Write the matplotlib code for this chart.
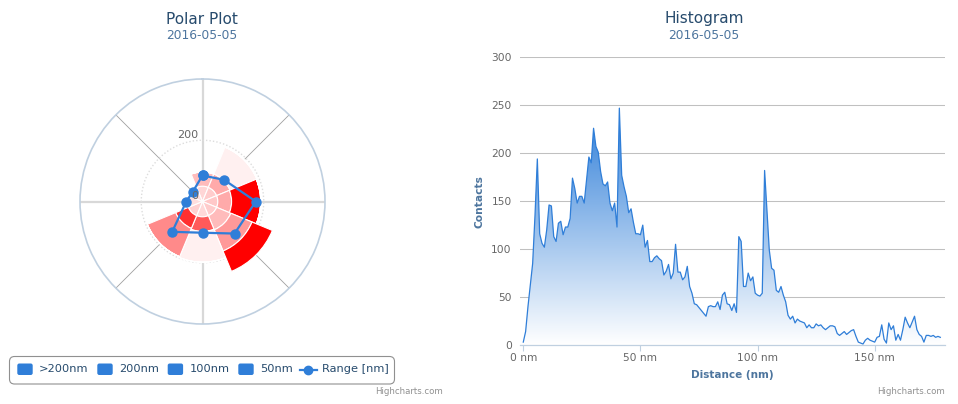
import numpy as np
import matplotlib
matplotlib.use('Agg')
import matplotlib.pyplot as plt
from matplotlib.patches import FancyBboxPatch

W, H = 958, 404

# polar data: 8 directions, stacked distance classes (inner -> outer)
directions = ['N', 'NE', 'E', 'SE', 'S', 'SW', 'W', 'NW']
s50 = [50, 50, 50, 50, 50, 50, 45, 45]
s100 = [47, 47, 45, 50, 48, 45, 0, 0]
s200 = [0, 95, 95, 75, 100, 100, 0, 0]
s_gt200 = [0, 0, 0, 72, 0, 0, 0, 0]
c50 = ['#ffd6d6', '#ffcccc', '#ffc8c8', '#ffcccc', '#ffd9d9', '#ffd0d0', '#ffdede', '#ffe0e0']
c100 = ['#ffbcbc', '#ffaaaa', '#ffaaaa', '#ffbbbb', '#ff5a5a', '#ff3030', '#ffffff', '#ffffff']
c200 = ['#ffffff', '#fff0f0', '#ff0000', '#ff9999', '#fff0f0', '#ff8a8a', '#ffffff', '#ffffff']
c_gt200 = ['#ffffff', '#ffffff', '#ffffff', '#ff0000', '#ffffff', '#ffffff', '#ffffff', '#ffffff']
range_nm = [85, 100, 174, 148, 102, 140, 53, 45]

# histogram data, 1 nm bins from 0 nm
contacts = [3, 14, 40, 62, 85, 135, 194, 116, 106, 102, 120, 146, 145, 113, 108, 127, 129, 115,
            123, 123, 132, 174, 163, 148, 155, 155, 148, 172, 196, 190, 226, 207, 201, 181, 168,
            166, 170, 148, 140, 148, 123, 247, 177, 165, 155, 138, 142, 128, 116, 116, 115, 125,
            102, 109, 87, 87, 91, 93, 90, 88, 73, 77, 84, 69, 75, 105, 76, 76, 68, 71, 82, 61,
            54, 43, 42, 39, 36, 33, 30, 40, 41, 40, 40, 45, 37, 52, 55, 43, 42, 36, 43, 34, 113,
            108, 61, 61, 75, 67, 71, 54, 52, 51, 54, 182, 141, 99, 80, 78, 57, 55, 61, 52, 45, 31,
            27, 30, 23, 27, 25, 24, 23, 18, 21, 18, 18, 22, 20, 21, 18, 16, 18, 20, 20, 19, 12, 10,
            12, 14, 11, 13, 15, 16, 9, 3, 2, 1, 5, 7, 5, 4, 3, 8, 9, 21, 6, 2, 23, 16, 20, 5, 11,
            5, 16, 29, 23, 18, 24, 30, 16, 11, 9, 3, 10, 10, 9, 10, 8, 9, 8]
xticks = [0, 50, 100, 150]
xticklabels = ['0 nm', '50 nm', '100 nm', '150 nm']

blue = '#2f7ed8'
title_col = '#274b6d'
sub_col = '#4d759e'
label_col = '#666666'

fig = plt.figure(figsize=(W / 100, H / 100), dpi=100)

# ---------------- polar plot ----------------
cx, cy, R = 202.5, 201.5, 122.5
ax = fig.add_axes([(cx - R) / W, (H - cy - R) / H, 2 * R / W, 2 * R / H], projection='polar')
ax.set_theta_zero_location('N')
ax.set_theta_direction(-1)
theta = np.deg2rad(np.arange(len(directions)) * 45)
width = 2 * np.pi / len(directions)

bottom = np.zeros(len(directions))
for vals, cols in [(s50, c50), (s100, c100), (s200, c200), (s_gt200, c_gt200)]:
    vals = np.array(vals, dtype=float)
    ax.bar(theta, vals, width=width, bottom=bottom, color=cols, edgecolor='white',
           linewidth=0.8, zorder=2)
    bottom += vals

ax.plot(np.append(theta, theta[0]), range_nm + range_nm[:1], color=blue, lw=1.6,
        marker='o', ms=6.5, zorder=4)

ax.set_ylim(0, 400)
ax.set_xticks(theta)
ax.set_xticklabels([])
ax.set_yticks([200])
ax.set_yticklabels([])
ax.grid(True)
for i, gl in enumerate(ax.xaxis.get_gridlines()):
    if i % 2 == 0:
        gl.set_color('#d8d8d8')
        gl.set_linewidth(1.6)
    else:
        gl.set_color('#a0a0a0')
        gl.set_linewidth(0.6)
for gl in ax.yaxis.get_gridlines():
    gl.set_color('#dddddd')
    gl.set_linestyle((0, (1, 1.5)))
    gl.set_linewidth(1.0)
ax.spines['polar'].set_color('#c0d0e0')
ax.spines['polar'].set_linewidth(1.2)
ax.tick_params(axis='both', length=0)
ax.text(np.deg2rad(-12.3), 221, '200', ha='center', va='center', fontsize=8, color=label_col)
ax.text(np.deg2rad(-52), 31, '0', ha='center', va='center', fontsize=8, color=label_col, zorder=6)

# ---------------- histogram ----------------
left, right, top, base = 520, 945, 57.3, 345
ax2 = fig.add_axes([left / W, (H - base) / H, (right - left) / W, (base - top) / H])
x = np.arange(len(contacts))
fill = ax2.fill_between(x, contacts, 0, color='none', lw=0)
g = np.linspace(0, 1, 256)[:, None]
top_rgb = np.array([47, 126, 216]) / 255.0
rgb = top_rgb[None, :] * (1 - g) + np.ones(3)[None, :] * g
img = ax2.imshow(rgb[:, None, :], extent=[x[0], x[-1], 0, max(contacts)], aspect='auto',
                 origin='upper', zorder=1, interpolation='bilinear')
img.set_clip_path(fill.get_paths()[0], transform=ax2.transData)
ax2.plot(x, contacts, color=blue, lw=0.9, zorder=3)

ax2.set_xlim(-1.4, 180)
ax2.set_ylim(0, 300)
ax2.set_yticks(range(0, 301, 50))
ax2.set_xticks(xticks)
ax2.set_xticklabels(xticklabels)
ax2.yaxis.grid(True, color='#c0c0c0', lw=0.75)
ax2.set_axisbelow(True)
for s in ['top', 'right', 'left']:
    ax2.spines[s].set_visible(False)
ax2.spines['bottom'].set_color('#c0d0e0')
ax2.spines['bottom'].set_linewidth(0.9)
ax2.spines['bottom'].set_zorder(4)
ax2.tick_params(axis='x', length=4, color='#c0d0e0', labelsize=7.7, labelcolor=label_col, pad=1.5)
ax2.tick_params(axis='y', length=0, labelsize=7.7, labelcolor=label_col, pad=6)
ax2.set_ylabel('Contacts', fontsize=7.7, fontweight='bold', color=sub_col, labelpad=5)
ax2.set_xlabel('Distance (nm)', fontsize=7.5, fontweight='bold', color=sub_col, labelpad=5)

# ---------------- titles, legend, credits ----------------
fig.text(202 / W, 1 - 19 / H, 'Polar Plot', ha='center', va='center', fontsize=11, color=title_col)
fig.text(202 / W, 1 - 35.5 / H, '2016-05-05', ha='center', va='center', fontsize=8.8, color=sub_col)
fig.text(704 / W, 1 - 19 / H, 'Histogram', ha='center', va='center', fontsize=11, color=title_col)
fig.text(704 / W, 1 - 35.5 / H, '2016-05-05', ha='center', va='center', fontsize=8.8, color=sub_col)
fig.text(443 / W, 1 - 392 / H, 'Highcharts.com', ha='right', va='center', fontsize=6.2, color='#909090')
fig.text(945 / W, 1 - 392 / H, 'Highcharts.com', ha='right', va='center', fontsize=6.2, color='#909090')

lax = fig.add_axes([0, 0, 1, 1], facecolor='none')
lax.set_xlim(0, W)
lax.set_ylim(H, 0)
lax.axis('off')
lax.add_patch(FancyBboxPatch((9.5, 356.5), 385, 27.5, boxstyle='round,pad=0,rounding_size=5',
                             fc='white', ec='#909090', lw=0.8))
legend_names = ['>200nm', '200nm', '100nm', '50nm']
sym_x = [17.3, 97.3, 167.7, 238.3]
for name, sx in zip(legend_names, sym_x):
    lax.add_patch(FancyBboxPatch((sx, 363.5), 15.4, 11.5, boxstyle='round,pad=0,rounding_size=2',
                                 fc=blue, ec='none'))
    lax.text(sx + 21.7, 369.5, name, ha='left', va='center', fontsize=8.2, color=title_col)
lax.plot([300, 316.7], [369.5, 369.5], color=blue, lw=1.6)
lax.plot([308.5], [369.5], marker='o', color=blue, ms=6)
lax.text(321.7, 369.5, 'Range [nm]', ha='left', va='center', fontsize=8.2, color=title_col)

fig.savefig('out.png', dpi=100)
